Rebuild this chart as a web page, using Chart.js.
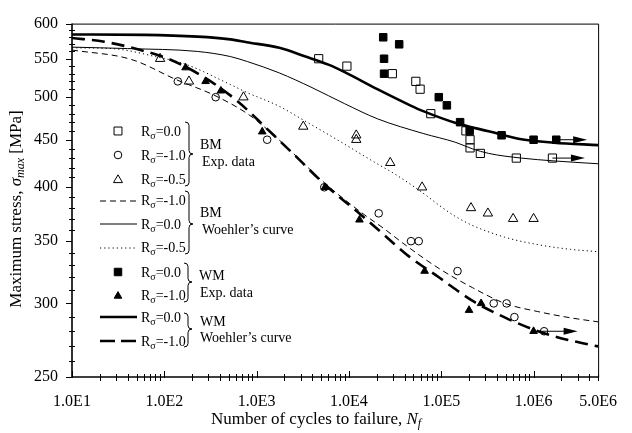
<!DOCTYPE html>
<html>
<head>
<meta charset="utf-8">
<script src="https://cdn.jsdelivr.net/npm/chart.js@4/dist/chart.umd.min.js"></script>
<style>
  html, body { margin: 0; padding: 0; background: #fff; }
  #c { display: block; }
</style>
</head>
<body>
<canvas id="c" width="632" height="433"></canvas>
<script>
// ---- axis ticks ----
const xTickValues = [1e1, 1e2, 1e3, 1e4, 1e5, 1e6, 5e6];
const xTickLabels = ['1.0E1', '1.0E2', '1.0E3', '1.0E4', '1.0E5', '1.0E6', '5.0E6'];
const yTickValues = [250, 300, 350, 400, 450, 500, 550, 600];

// ---- base metal (BM) experimental data ----
const bmR0N = [4.7e3, 9.5e3, 2.95e4, 5.3e4, 5.9e4, 7.7e4, 1.85e5, 2.05e5, 2.05e5, 2.65e5, 6.5e5, 1.6e6];
const bmR0S = [550, 540, 530, 520, 510, 480, 460, 450, 441, 435, 430, 430];

const bmRm1N = [1.4e2, 3.6e2, 1.3e3, 5.4e3, 2.1e4, 4.7e4, 5.7e4, 1.5e5, 3.7e5, 5.1e5, 6.2e5, 1.3e6];
const bmRm1S = [520, 500, 450, 400, 375, 350, 350, 325, 300, 300, 290, 280];

const bmRm05N = [90, 1.85e2, 7.2e2, 3.2e3, 1.2e4, 1.2e4, 2.8e4, 6.2e4, 2.1e5, 3.2e5, 6.0e5, 1.0e6];
const bmRm05S = [550, 520, 500, 465, 455, 450, 425, 400, 380, 375, 370, 370];

// ---- weld metal (WM) experimental data ----
const wmR0N = [2.35e4, 3.5e4, 2.4e4, 2.4e4, 9.4e4, 1.15e5, 1.6e5, 2.03e5, 4.5e5, 1.0e6, 1.76e6];
const wmR0S = [580, 570, 550, 530, 500, 490, 470, 460, 455, 450, 450];

const wmRm1N = [1.7e2, 2.8e2, 4.1e2, 1.15e3, 5.5e3, 1.3e4, 6.6e4, 2.0e5, 2.7e5, 1.0e6];
const wmRm1S = [538, 520, 508, 459, 400, 369, 325, 295, 300, 280];

// ---- Woehler curves ----
const curveBmR0N = [10, 40, 229, 518, 800, 1760, 3980, 8990, 20300, 63700, 144000, 217000, 326000, 736000, 1.66e6, 5e6];
const curveBmR0S = [566, 564, 560, 553, 546, 531, 512, 492, 474, 457, 447, 440, 435, 430, 427, 424];

const curveBmRm1N = [10, 44, 136, 354, 818, 1540, 5500, 13500, 24000, 42000, 95000, 217000, 490000, 1.11e6, 2.5e6, 5e6];
const curveBmRm1S = [562, 549, 522, 502, 479, 455, 404, 376, 361, 346, 327, 312, 300, 294, 289.5, 286.6];

const curveBmRm05N = [10, 27, 86, 166, 518, 779, 1747, 3143, 5937, 9002, 13646, 20184, 30592, 46388, 68610, 96630, 142950, 216700, 485900, 1.116e6, 2.503e6, 5e6];
const curveBmRm05S = [565, 564, 552, 543, 516, 506, 489, 473, 456, 445, 434, 424, 414, 403, 392, 382, 372, 364, 353.5, 347, 343, 341];

const curveWmR0N = [10, 60, 229, 518, 780, 1760, 3380, 5990, 8990, 20300, 46000, 63700, 144000, 326000, 736000, 1.66e6, 5e6];
const curveWmR0S = [584, 583.5, 581, 577, 573, 565, 553, 542, 532, 510, 490, 483, 469, 459.5, 450.5, 446.7, 444];

const curveWmRm1N = [10, 22.4, 51.5, 115, 259, 501, 818, 1150, 2520, 5520, 13650, 23950, 42050, 96600, 216700, 486000, 940000, 1.65e6, 2.5e6, 5e6];
const curveWmRm1S = [579, 573.6, 563, 549, 526.7, 503.5, 483.2, 467.6, 434.1, 402.5, 373.3, 355.6, 338.6, 319.5, 302, 289.8, 281.8, 276.7, 273.7, 269.7];

// ---- run-out arrows (specimens without failure) ----
const runoutFromN = [1.76e6, 1.6e6, 1.0e6];
const runoutToN = [3.8e6, 3.6e6, 3.0e6];
const runoutS = [450, 430, 280];

const SERIF = '"Liberation Serif", "Times New Roman", serif';

function pts(N, S) { return N.map((n, i) => ({ x: n, y: S[i] })); }

function markerSet(N, S, style, radius, fill, order) {
  return {
    data: pts(N, S), showLine: false, pointStyle: style, pointRadius: radius,
    pointBackgroundColor: fill, pointBorderColor: '#000', pointBorderWidth: 1, order: order
  };
}
function curveSet(N, S, width, dash, order) {
  return {
    data: pts(N, S), showLine: true, pointRadius: 0, borderColor: '#000', borderWidth: width,
    borderDash: dash, cubicInterpolationMode: 'monotone', fill: false, order: order
  };
}

const CLEAR = 'rgba(0,0,0,0)';

// marker geometry shared by the legend (same shapes as the chart's points)
function marker(ctx, style, r, fill, x, y) {
  ctx.save();
  ctx.setLineDash([]);
  ctx.fillStyle = fill; ctx.strokeStyle = '#000'; ctx.lineWidth = 1;
  ctx.beginPath();
  if (style === 'rect') {
    const s = r * Math.SQRT1_2;
    ctx.rect(x - s, y - s, 2 * s, 2 * s);
  } else if (style === 'circle') {
    ctx.arc(x, y, r, 0, Math.PI * 2);
  } else {
    let a = 0;
    ctx.moveTo(x + Math.sin(a) * r, y - Math.cos(a) * r);
    a += Math.PI * 2 / 3; ctx.lineTo(x + Math.sin(a) * r, y - Math.cos(a) * r);
    a += Math.PI * 2 / 3; ctx.lineTo(x + Math.sin(a) * r, y - Math.cos(a) * r);
    ctx.closePath();
  }
  ctx.fill(); ctx.stroke();
  ctx.restore();
}

function legendLine(ctx, x0, x1, y, width, dash) {
  ctx.save();
  ctx.strokeStyle = '#000'; ctx.lineWidth = width; ctx.setLineDash(dash);
  ctx.beginPath(); ctx.moveTo(x0, y); ctx.lineTo(x1, y); ctx.stroke();
  ctx.restore();
}

function rLabel(ctx, x, y, tail) {
  ctx.save();
  ctx.fillStyle = '#000'; ctx.textBaseline = 'alphabetic'; ctx.textAlign = 'left';
  ctx.font = '14px ' + SERIF;
  ctx.fillText('R', x, y);
  const w1 = ctx.measureText('R').width;
  ctx.font = '10px ' + SERIF;
  ctx.fillText('σ', x + w1, y + 3);
  const w2 = ctx.measureText('σ').width;
  ctx.font = '14px ' + SERIF;
  ctx.fillText(tail, x + w1 + w2, y);
  ctx.restore();
}

function brace(ctx, x, y0, y1, ym) {
  const c = 3.5;
  ctx.save();
  ctx.setLineDash([]);
  ctx.strokeStyle = '#000'; ctx.lineWidth = 1;
  ctx.beginPath();
  ctx.moveTo(x - 4, y0);
  ctx.quadraticCurveTo(x, y0, x, y0 + c);
  ctx.lineTo(x, ym - c);
  ctx.quadraticCurveTo(x, ym, x + 4, ym);
  ctx.quadraticCurveTo(x, ym, x, ym + c);
  ctx.lineTo(x, y1 - c);
  ctx.quadraticCurveTo(x, y1, x - 4, y1);
  ctx.stroke();
  ctx.restore();
}

function plainText(ctx, str, x, y, size) {
  ctx.save();
  ctx.fillStyle = '#000'; ctx.textBaseline = 'alphabetic'; ctx.textAlign = 'left';
  ctx.font = size + 'px ' + SERIF;
  ctx.fillText(str, x, y);
  ctx.restore();
}

// text runs: [string, italic, size, baseline shift]
function runs(ctx, parts, x, y) {
  let cx = x;
  parts.forEach(p => {
    ctx.font = (p[1] ? 'italic ' : '') + p[2] + 'px ' + SERIF;
    ctx.fillText(p[0], cx, y + p[3]);
    cx += ctx.measureText(p[0]).width;
  });
}
function runsWidth(ctx, parts) {
  let w = 0;
  parts.forEach(p => {
    ctx.font = (p[1] ? 'italic ' : '') + p[2] + 'px ' + SERIF;
    w += ctx.measureText(p[0]).width;
  });
  return w;
}

function drawAxes(chart) {
  const ctx = chart.ctx, xs = chart.scales.x, ys = chart.scales.y;
  const { left, right, top, bottom } = chart.chartArea;
  ctx.save();
  ctx.setLineDash([]);
  ctx.globalAlpha = 1;
  ctx.strokeStyle = '#000';

  // frame
  ctx.lineWidth = 1;
  ctx.beginPath();
  ctx.moveTo(left, top + 0.5); ctx.lineTo(right + 0.5, top + 0.5);
  ctx.lineTo(right + 0.5, bottom);
  ctx.stroke();
  // axes
  ctx.lineWidth = 1.6;
  ctx.beginPath();
  ctx.moveTo(left, top); ctx.lineTo(left, bottom); ctx.lineTo(right + 1, bottom);
  ctx.stroke();

  // y ticks: majors outward, minors across the axis
  ctx.lineWidth = 1;
  for (let v = 250; v <= 600; v += 10) {
    const y = Math.round(ys.getPixelForValue(v)) + 0.5;
    ctx.beginPath();
    if (v % 50 === 0) { ctx.moveTo(left - 6, y); ctx.lineTo(left, y); }
    else { ctx.moveTo(left - 3, y); ctx.lineTo(left + 3, y); }
    ctx.stroke();
  }
  // x ticks: decades inward, intermediate ticks across the axis
  for (let d = 10; d < 5e6; d *= 10) {
    for (let k = 1; k <= 9; k++) {
      const v = k * d;
      if (v > 5e6) break;
      const x = Math.round(xs.getPixelForValue(v)) + 0.5;
      ctx.beginPath();
      if (k === 1) { ctx.moveTo(x, bottom - 6); ctx.lineTo(x, bottom + 1); }
      else { ctx.moveTo(x, bottom - 3); ctx.lineTo(x, bottom + 4); }
      ctx.stroke();
    }
  }
  ctx.restore();
}

function drawRunouts(chart) {
  const ctx = chart.ctx, xs = chart.scales.x, ys = chart.scales.y;
  ctx.save();
  ctx.setLineDash([]);
  ctx.fillStyle = '#000'; ctx.strokeStyle = '#000'; ctx.lineWidth = 1;
  runoutS.forEach((s, i) => {
    const x0 = xs.getPixelForValue(runoutFromN[i]);
    const x1 = xs.getPixelForValue(runoutToN[i]);
    const y = ys.getPixelForValue(s);
    ctx.beginPath(); ctx.moveTo(x0, y); ctx.lineTo(x1 - 10, y); ctx.stroke();
    ctx.beginPath();
    ctx.moveTo(x1, y); ctx.lineTo(x1 - 14, y - 3.5); ctx.lineTo(x1 - 14, y + 3.5);
    ctx.closePath(); ctx.fill();
  });
  ctx.restore();
}

function drawTitlesAndKey(chart) {
  const ctx = chart.ctx;
  ctx.save();
  ctx.setLineDash([]);
  ctx.fillStyle = '#000'; ctx.textBaseline = 'alphabetic'; ctx.textAlign = 'left';

  // axis titles
  const xt = [['Number of cycles to failure, ', false, 17, 0], ['N', true, 17, 0], ['f', true, 12, 3]];
  runs(ctx, xt, 211, 424);
  const yt = [['Maximum stress, ', false, 17, 0], ['σ', true, 17, 0], ['max', true, 12, 3], [' [MPa]', false, 17, 0]];
  const yw = runsWidth(ctx, yt);
  ctx.save();
  ctx.translate(21, 209);
  ctx.rotate(-Math.PI / 2);
  runs(ctx, yt, -yw / 2, 0);
  ctx.restore();

  // key
  const lx = 118, tx = 141;
  marker(ctx, 'rect', 5.6, CLEAR, lx, 131); rLabel(ctx, tx, 135.5, '=0.0');
  marker(ctx, 'circle', 3.8, CLEAR, lx, 155); rLabel(ctx, tx, 159.5, '=-1.0');
  marker(ctx, 'triangle', 5.2, CLEAR, lx, 180); rLabel(ctx, tx, 183.5, '=-0.5');
  brace(ctx, 189, 122, 186, 154);
  plainText(ctx, 'BM', 200, 149, 14);
  plainText(ctx, 'Exp. data', 202, 166, 14);

  legendLine(ctx, 100, 136, 201, 1, [6, 4]); rLabel(ctx, tx, 205, '=-1.0');
  legendLine(ctx, 100, 137, 224, 1, []); rLabel(ctx, tx, 228.5, '=0.0');
  legendLine(ctx, 100, 136, 248, 1, [1.2, 3]); rLabel(ctx, tx, 252, '=-0.5');
  brace(ctx, 189, 191, 254, 224);
  plainText(ctx, 'BM', 200, 217, 14);
  plainText(ctx, 'Woehler\u2019s curve', 202, 233.5, 14);

  marker(ctx, 'rect', 5.3, '#000', lx, 272); rLabel(ctx, tx, 276.5, '=0.0');
  marker(ctx, 'triangle', 4.4, '#000', lx, 296); rLabel(ctx, tx, 299.5, '=-1.0');
  brace(ctx, 188, 263, 302, 282);
  plainText(ctx, 'WM', 199, 280, 14);
  plainText(ctx, 'Exp. data', 200, 297, 14);

  legendLine(ctx, 100, 137, 317, 2.6, []); rLabel(ctx, tx, 321.5, '=0.0');
  legendLine(ctx, 100, 137, 341, 2.6, [15, 6]); rLabel(ctx, tx, 345.5, '=-1.0');
  brace(ctx, 188, 313, 347, 329);
  plainText(ctx, 'WM', 200, 326, 14);
  plainText(ctx, 'Woehler\u2019s curve', 200, 342, 14);

  ctx.restore();
}

const decor = {
  id: 'decor',
  afterDatasetsDraw(chart) {
    drawRunouts(chart);
    drawAxes(chart);
    drawTitlesAndKey(chart);
  }
};

new Chart(document.getElementById('c'), {
  type: 'scatter',
  data: {
    datasets: [
      markerSet(wmR0N, wmR0S, 'rect', 5.3, '#000', 0),
      markerSet(wmRm1N, wmRm1S, 'triangle', 4.4, '#000', 1),
      markerSet(bmR0N, bmR0S, 'rect', 5.8, CLEAR, 2),
      markerSet(bmRm1N, bmRm1S, 'circle', 3.8, CLEAR, 3),
      markerSet(bmRm05N, bmRm05S, 'triangle', 5.4, CLEAR, 4),
      curveSet(curveWmR0N, curveWmR0S, 2.6, [], 5),
      curveSet(curveWmRm1N, curveWmRm1S, 2.6, [13, 7], 6),
      curveSet(curveBmR0N, curveBmR0S, 1, [], 7),
      curveSet(curveBmRm1N, curveBmRm1S, 1, [6, 4], 8),
      curveSet(curveBmRm05N, curveBmRm05S, 1, [1.2, 3], 9)
    ]
  },
  options: {
    responsive: false,
    animation: false,
    devicePixelRatio: 1,
    layout: { padding: { top: 17, right: 24, bottom: 0, left: 0 } },
    plugins: { legend: { display: false }, tooltip: { enabled: false } },
    scales: {
      x: {
        type: 'logarithmic', min: 10, max: 5e6,
        grid: { display: false, drawTicks: false },
        border: { display: false },
        afterBuildTicks: s => { s.ticks = xTickValues.map(v => ({ value: v })); },
        afterFit: s => { s.height = 56; },
        ticks: {
          autoSkip: false, maxRotation: 0, padding: 15, color: '#000',
          font: { family: SERIF, size: 16 },
          callback: (v, i) => xTickLabels[i]
        }
      },
      y: {
        type: 'logarithmic', min: 250, max: 600,
        grid: { display: false, drawTicks: false },
        border: { display: false },
        afterBuildTicks: s => { s.ticks = yTickValues.map(v => ({ value: v })); },
        afterFit: s => { s.width = 72; },
        ticks: {
          autoSkip: false, padding: 14, color: '#000',
          font: { family: SERIF, size: 16 },
          callback: v => String(v)
        }
      }
    }
  },
  plugins: [decor]
});
</script>
</body>
</html>
